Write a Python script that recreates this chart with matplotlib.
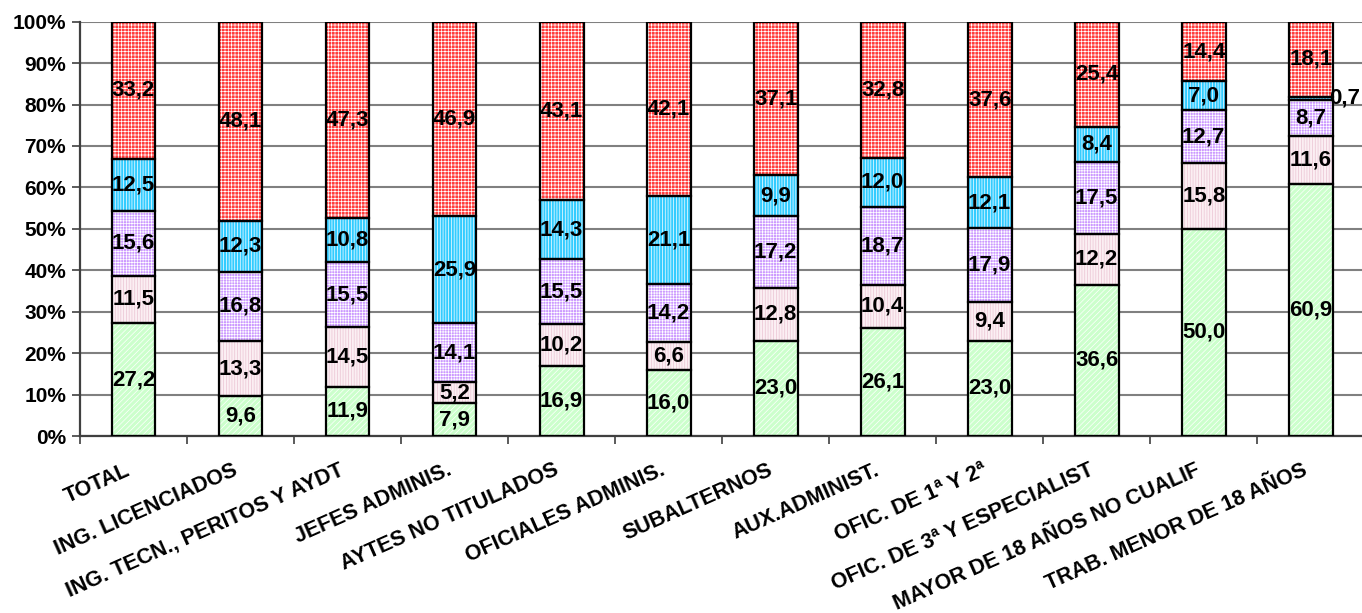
import numpy as np
import matplotlib
matplotlib.use("Agg")
import matplotlib.pyplot as plt

plt.rcParams['font.family'] = ['Liberation Sans', 'DejaVu Sans']
plt.rcParams['font.weight'] = 'bold'
plt.rcParams['hatch.linewidth'] = 0.5

categorias = ["TOTAL", "ING. LICENCIADOS", "ING. TECN., PERITOS Y AYDT",
              "JEFES ADMINIS.", "AYTES NO TITULADOS", "OFICIALES ADMINIS.",
              "SUBALTERNOS", "AUX.ADMINIST.", "OFIC. DE 1ª Y 2ª",
              "OFIC. DE 3ª Y ESPECIALIST", "MAYOR DE 18 AÑOS NO CUALIF",
              "TRAB. MENOR DE 18 AÑOS"]

serie1 = [27.2, 9.6, 11.9, 7.9, 16.9, 16.0, 23.0, 26.1, 23.0, 36.6, 50.0, 60.9]
serie2 = [11.5, 13.3, 14.5, 5.2, 10.2, 6.6, 12.8, 10.4, 9.4, 12.2, 15.8, 11.6]
serie3 = [15.6, 16.8, 15.5, 14.1, 15.5, 14.2, 17.2, 18.7, 17.9, 17.5, 12.7, 8.7]
serie4 = [12.5, 12.3, 10.8, 25.9, 14.3, 21.1, 9.9, 12.0, 12.1, 8.4, 7.0, 0.7]
serie5 = [33.2, 48.1, 47.3, 46.9, 43.1, 42.1, 37.1, 32.8, 37.6, 25.4, 14.4, 18.1]

series = [serie1, serie2, serie3, serie4, serie5]
# (relleno, color de la trama, trama)
estilos = [("#CCFFCC", "white", "//////"),
           ("#FBEFF3", "#EBC3D3", "||||||"),
           ("#CC99FF", "white", "++++++"),
           ("#33CCFF", "white", "||||||"),
           ("#FF3B3B", "white", "+++++")]

datos = np.array(series, dtype=float)
pct = datos / datos.sum(axis=0) * 100

fig = plt.figure(figsize=(13.62, 6.13), dpi=100)
ax = fig.add_axes([0.0587, 0.2887, 0.943, 0.676])

x = np.arange(len(categorias))
ancho = 0.41
base = np.zeros(len(categorias))
for k in range(len(series)):
    fc, hc, h = estilos[k]
    ax.bar(x, pct[k], ancho, bottom=base, color=fc, edgecolor=hc,
           linewidth=0, hatch=h, zorder=2)
    ax.bar(x, pct[k], ancho, bottom=base, fill=False, edgecolor="black",
           linewidth=1.6, zorder=3)
    for i in range(len(categorias)):
        yc = base[i] + pct[k][i] / 2
        txt = f"{datos[k][i]:.1f}".replace(".", ",")
        if pct[k][i] < 2:
            ax.text(x[i] + ancho / 2 - 0.03, yc, txt, ha="left", va="center",
                    fontsize=16, fontweight="bold", zorder=4)
        else:
            ax.text(x[i], yc, txt, ha="center", va="center",
                    fontsize=16, fontweight="bold", zorder=4)
    base += pct[k]

ax.set_xlim(-0.5, len(categorias) - 0.5)
ax.set_ylim(0, 100)
ax.set_yticks(np.arange(0, 101, 10))
ax.set_yticklabels([f"{v}%" for v in range(0, 101, 10)], fontsize=15,
                   fontweight="bold")
ax.yaxis.grid(True, color="#808080", linewidth=1.5, zorder=0)
ax.set_axisbelow(True)

ax.set_xticks(x)
ax.set_xticklabels(categorias, rotation=24, ha="right", va="top",
                   fontsize=15.5, fontweight="bold")
ax.set_xticks(np.arange(-0.5, len(categorias), 1), minor=True)
ax.tick_params(axis="x", which="major", length=0, pad=17)
ax.tick_params(axis="x", which="minor", length=6, width=1.2, color="#404040")
ax.tick_params(axis="y", length=6, width=1.2, color="#404040", pad=4)

for s in ["top", "right"]:
    ax.spines[s].set_visible(False)
for s in ["left", "bottom"]:
    ax.spines[s].set_color("#404040")
    ax.spines[s].set_linewidth(1.6)

fig.savefig("out.png", dpi=100)
